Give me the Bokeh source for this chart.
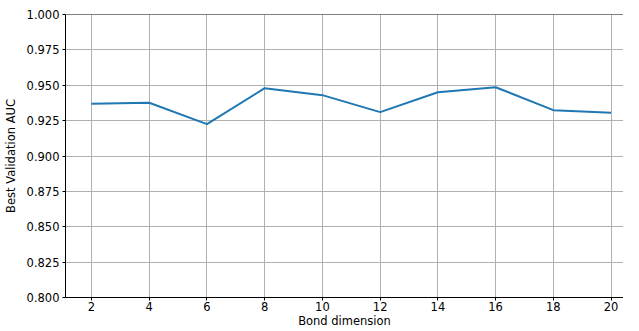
from bokeh.plotting import figure
from bokeh.models import Range1d, FixedTicker, NumeralTickFormatter, Span
from bokeh.embed import file_html
from bokeh.resources import INLINE

bond_dims = [2, 4, 6, 8, 10, 12, 14, 16, 18, 20]
best_val_auc = [0.9369, 0.9376, 0.9225, 0.9479, 0.9430, 0.9310, 0.9451, 0.9486, 0.9324, 0.9305]
x_ticks = [2, 4, 6, 8, 10, 12, 14, 16, 18, 20]
y_ticks = [0.800, 0.825, 0.850, 0.875, 0.900, 0.925, 0.950, 0.975, 1.000]

FONT = "DejaVu Sans"

p = figure(width=623, height=330, output_backend="svg", toolbar_location=None,
           x_range=Range1d(1.1, 20.43), y_range=Range1d(0.8, 1.0),
           min_border_left=56, min_border_right=0, min_border_top=14, min_border_bottom=33)
p.background_fill_color = "white"
p.border_fill_color = "white"
p.outline_line_color = None

p.line(bond_dims, best_val_auc, line_color="#1f77b4", line_width=2)

for ax in (p.xaxis, p.yaxis):
    ax.axis_line_color = "black"
    ax.axis_line_width = 1
    ax.major_tick_line_color = "black"
    ax.major_tick_in = 0
    ax.major_tick_out = 3
    ax.minor_tick_line_color = None
    ax.major_label_text_font = FONT
    ax.major_label_text_font_size = "11.5px"
    ax.major_label_text_color = "black"
    ax.axis_label_text_font = FONT
    ax.axis_label_text_font_size = "11.5px"
    ax.axis_label_text_font_style = "normal"
    ax.axis_label_text_color = "black"

p.xaxis.ticker = FixedTicker(ticks=x_ticks)
p.yaxis.ticker = FixedTicker(ticks=y_ticks)
p.yaxis.formatter = NumeralTickFormatter(format="0.000")
p.xaxis.axis_label = "Bond dimension"
p.yaxis.axis_label = "Best Validation AUC"
p.xaxis.major_label_standoff = 1
p.yaxis.major_label_standoff = 3
p.xaxis.axis_label_standoff = 0
p.yaxis.axis_label_standoff = 6

p.grid.grid_line_color = "#b0b0b0"
p.grid.grid_line_width = 1

top_spine = Span(location=1.0, dimension="width", line_color="black", line_width=1)
p.add_layout(top_spine)

open("out.html", "w").write(file_html(p, INLINE))
